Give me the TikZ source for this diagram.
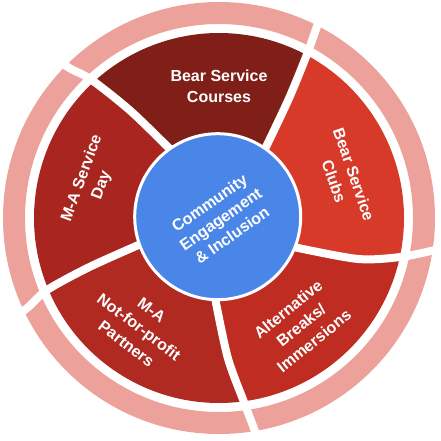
\documentclass[tikz,border=0pt]{standalone}
\usepackage{fontspec}
\setmainfont{Liberation Sans}
\definecolor{ringpink}{RGB}{236,162,155}
\definecolor{coursered}{RGB}{127,31,23}
\definecolor{clubred}{RGB}{216,58,42}
\definecolor{breakred}{RGB}{190,44,34}
\definecolor{partnerred}{RGB}{176,42,33}
\definecolor{dayred}{RGB}{168,38,31}
\definecolor{hubblue}{RGB}{74,134,232}

\begin{document}
\begin{tikzpicture}[x=1pt,y=1pt,
    gapline/.style={color=white,line width=8pt},
    seglabel/.style={text=white,align=center,inner sep=0pt,
      font=\fontsize{16}{21}\selectfont\bfseries}]
\useasboundingbox (-219,-223) rectangle (221,218);

\fill[color=ringpink,even odd rule] (0,0) circle (216pt) (0,0) circle (194pt);

\fill[color=clubred] (0,0) -- plot[smooth] coordinates {(-21.5:78pt) (-16.5:144pt) (-12.2:185pt)}
  arc[start angle=-12.2,end angle=61.7,radius=185pt]
  -- plot[smooth] coordinates {(61.7:185pt) (59.6:137pt) (55.8:78pt)} -- cycle;
\fill[color=coursered] (0,0) -- plot[smooth] coordinates {(55.8:78pt) (59.6:137pt) (61.7:185pt)}
  arc[start angle=61.7,end angle=132.7,radius=185pt]
  -- plot[smooth] coordinates {(132.7:185pt) (129.5:138pt) (124.6:78pt)} -- cycle;
\fill[color=dayred] (0,0) -- plot[smooth] coordinates {(124.6:78pt) (129.5:138pt) (132.7:185pt)}
  arc[start angle=132.7,end angle=202.7,radius=185pt]
  -- plot[smooth] coordinates {(202.7:185pt) (200.7:138pt) (198.1:78pt)} -- cycle;
\fill[color=partnerred] (0,0) -- plot[smooth] coordinates {(198.1:78pt) (200.7:138pt) (202.7:185pt)}
  arc[start angle=202.7,end angle=277.6,radius=185pt]
  -- plot[smooth] coordinates {(277.6:185pt) (273.5:139pt) (266.8:78pt)} -- cycle;
\fill[color=breakred] (0,0) -- plot[smooth] coordinates {(266.8:78pt) (273.5:139pt) (277.6:185pt)}
  arc[start angle=277.6,end angle=347.8,radius=185pt]
  -- plot[smooth] coordinates {(347.8:185pt) (343.5:144pt) (338.5:78pt)} -- cycle;

% curved gaps through sectors and ring
\draw[gapline] plot[smooth] coordinates {(-21.5:78pt) (-16.5:144pt) (-12.2:185pt) (-8.8:215pt) (-7.5:228pt)};
\draw[gapline] plot[smooth] coordinates {(55.8:78pt) (59.6:137pt) (61.7:185pt) (62.8:212pt) (63.3:228pt)};
\draw[gapline] plot[smooth] coordinates {(124.6:78pt) (129.5:138pt) (132.7:188pt) (134.8:210pt) (135.8:228pt)};
\draw[gapline] plot[smooth] coordinates {(198.1:78pt) (200.7:138pt) (202.7:186pt) (205:210pt) (206:228pt)};
\draw[gapline] plot[smooth] coordinates {(266.8:78pt) (273.5:139pt) (277.6:184pt) (279.3:211pt) (280:228pt)};

\draw[color=white,line width=3pt,fill=hubblue] (-1.3,1.3) circle (83pt);

\node[seglabel] (courses) at (0,132) {Bear Service\\Courses};
\node[seglabel,rotate=-71] (clubs) at (125,40) {Bear Service\\Clubs};
\node[seglabel,rotate=39,font=\fontsize{16}{20.6}\selectfont\bfseries] (breaks) at (82,-107) {Alternative\\Breaks/\\Immersions};
\node[seglabel,rotate=-37] (partners) at (-80,-109) {M-A\\Not-for-profit\\Partners};
\node[seglabel,rotate=70] (serviceday) at (-127,36) {M-A Service\\Day};
\node[seglabel,rotate=35,font=\fontsize{16}{19.6}\selectfont\bfseries] (hub) at (1.7,-1) {Community\\Engagement\\\& Inclusion};

\end{tikzpicture}
\end{document}
